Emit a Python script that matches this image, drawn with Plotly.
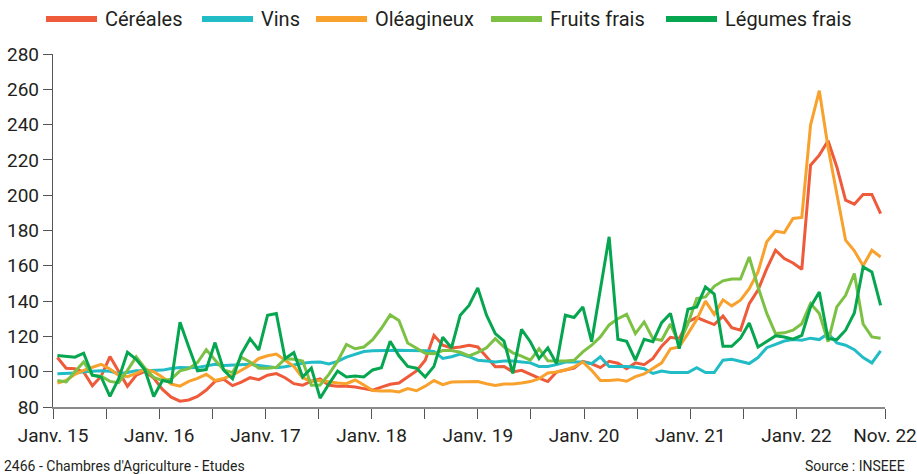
import plotly.graph_objects as go
import pandas as pd

# ---------------- Data (monthly index, Jan 2015 = base) ----------------
mois = pd.date_range("2015-01-01", "2022-11-01", freq="MS")

cereales = [108, 102, 101.7, 99.8, 92, 97.4, 108.6, 99.8, 91.7, 98, 100.2, 96.4,
            90, 85.6, 83.3, 84, 86, 89.6, 94.5, 95.7, 92.1, 94.1, 96.6, 95.5,
            98, 98.9, 96.6, 93.2, 92.3, 94.7, 96, 92.3, 91.7, 91.7, 91.3, 90.4,
            89.5, 91.3, 92.9, 93.6, 97, 100.4, 106.5, 120.6, 115, 113.5, 114, 115,
            114, 108.3, 102.8, 103, 99.9, 100.8, 98.5, 96.3, 94.4, 99.8, 101, 102,
            105.9, 104.5, 102.3, 105.9, 104.8, 101.7, 105, 104, 107.5, 114.5, 119.5, 118.7,
            128.2, 130.7, 128.6, 126.7, 131.5, 125, 123.5, 138.6, 146.2, 158.4, 168.8, 164.1,
            161.6, 158, 217, 222.7, 230.8, 216, 197.2, 194.9, 200.4, 200.4, 189.6]

vins = [98.8, 98.8, 99.2, 100, 100.3, 100.5, 100.2, 98.9, 99.6, 100.6, 100.6, 100.7,
        100.9, 101.8, 102.4, 102.3, 102.4, 103.3, 104.2, 103.5, 103.6, 104, 104.2, 103.5,
        102.8, 102.3, 102.8, 104, 104.8, 105.3, 105.5, 104.4, 105.8, 108.3, 110, 111.4,
        111.8, 112, 112.1, 112.1, 112, 112, 111.8, 111.5, 107.5, 108.5, 110, 108.5,
        106.5, 106, 105.5, 106, 106, 105.5, 105, 103, 103, 104, 105.5, 105.5,
        105.5, 104.5, 108.4, 103, 103, 103, 102.5, 101.7, 99, 100.4, 99.5, 99.5,
        99.5, 102.3, 99.5, 99.5, 106.5, 107, 106, 104.6, 108, 113.6, 115.5, 117.4,
        118.2, 117.8, 119, 118.2, 121.6, 116.3, 115, 112.5, 108, 105, 111.8]

oleagineux = [93.6, 95, 98.5, 100.8, 102.5, 104.2, 101.5, 98, 97.2, 99, 101.3, 100,
              96.8, 93, 91.8, 94.5, 96.2, 98.5, 95, 96.2, 98, 101, 103.6, 107.5,
              109, 110, 106.5, 103, 96.6, 94.5, 95, 94.2, 93.6, 93.2, 95.3, 92.5,
              89.4, 89, 89.2, 88.5, 90.4, 89.2, 91.8, 95, 92.7, 94.2, 94.4, 94.4,
              94.4, 93.2, 92.2, 93, 93, 93.6, 94.4, 96, 99.3, 99.8, 101, 102.7,
              105.5, 100.8, 95, 95, 95.5, 94.6, 97.2, 98.7, 102, 105, 113, 114,
              121.6, 129.5, 140, 132.5, 140.7, 137.3, 140.5, 147, 156.5, 173.6, 179.6, 178.8,
              186.8, 187.4, 239.7, 259.2, 227, 200, 174.5, 168.5, 160, 168.8, 165]

fruits_frais = [95, 94.2, 100, 105.5, 98, 97.4, 94.5, 93.8, 100.8, 108.4, 102, 96.8,
                95, 95.8, 100.5, 101.7, 105.2, 112.5, 106.6, 101, 99.5, 108.2, 105.5, 102,
                102, 102.5, 107.3, 107, 106, 92.3, 92.5, 98.5, 106, 115.4, 113, 114,
                118.1, 124.6, 132.2, 129, 116.3, 113.2, 110.5, 110.2, 112, 112, 111, 109,
                111, 113.5, 118.7, 114, 110.7, 108.8, 106.5, 113, 106.2, 106, 106, 106.5,
                111.2, 115, 119.7, 126.5, 130, 132.5, 121.6, 128.2, 118.7, 117.8, 127, 115.9,
                127.2, 141.4, 142.4, 148.4, 151.5, 152.5, 152.5, 165, 148, 133, 121.6, 122,
                123.5, 127.2, 138.6, 133, 117, 136.7, 143.3, 155.6, 127, 119.7, 119]

legumes_frais = [109.2, 108.6, 108.2, 110.5, 98, 97, 86, 96, 111, 107, 101, 86,
                 95, 94, 128, 114, 100.5, 101.2, 116.5, 100.8, 96, 110, 118.7, 112.3,
                 132, 133, 107.5, 110.8, 97, 102, 85, 93, 100.4, 97, 97.5, 97,
                 101, 102.3, 117.2, 109, 103, 102, 97, 103, 119.5, 113.5, 132, 137.5,
                 147.5, 132, 121.6, 117.4, 99, 124, 117, 107.4, 113.5, 104.5, 132, 130.7,
                 136.7, 117, 148, 176.4, 118.4, 117.2, 106.5, 118.4, 117, 127.8, 133, 113,
                 135.4, 136.7, 148, 144, 114.4, 114.4, 119, 127.6, 114, 117, 120.3, 119.7,
                 118.4, 120.6, 136.7, 145.2, 118.7, 118.2, 123.5, 133.3, 159.4, 156.5, 137.6]

noms = ["Céréales", "Vins", "Oléagineux", "Fruits frais", "Légumes frais"]
valeurs = [cereales, vins, oleagineux, fruits_frais, legumes_frais]
couleurs = ["#EE5A3A", "#22BCC6", "#F8A12C", "#7CC143", "#06A651"]

y_ticks = [80, 100, 120, 140, 160, 180, 200, 220, 240, 260, 280]

mois_fr = {1: "Janv.", 11: "Nov."}

# ---------------- Figure ----------------
FONT = "Roboto, 'DejaVu Sans Condensed', sans-serif"
TXT = "#231F20"

x = list(range(len(mois)))
fig = go.Figure()
for nom, vals, col in zip(noms, valeurs, couleurs):
    fig.add_trace(go.Scatter(x=x, y=vals, mode="lines", name=nom,
                             line=dict(color=col, width=3), showlegend=False))

# x ticks: every 6 months on a Jan-15..Nov-22 scale, labels on January + last month
n = len(mois)
scale = n / (n - 1)
tickvals, ticktext = [], []
for m in list(range(0, 85, 6)) + [n - 1]:
    tickvals.append(-0.5 + m * scale)
    d = mois[m]
    if d.month == 1 or m == n - 1:
        ticktext.append(f"{mois_fr[d.month]} {d.year % 100:02d}")
    else:
        ticktext.append("")

W, H = 917, 474
L, R, T, B = 53, 32, 54, 67
pw, ph = W - L - R, H - T - B

def px_to_paper_x(px):
    return (px - L) / pw

def px_to_paper_y(py):
    return (H - B - py) / ph

fig.update_layout(
    width=W, height=H,
    margin=dict(l=L, r=R, t=T, b=B),
    paper_bgcolor="white", plot_bgcolor="white",
    font=dict(family=FONT, color=TXT, size=19),
    hovermode=False,
    xaxis=dict(range=[-0.5, n - 0.5], tickmode="array", tickvals=tickvals,
               ticktext=ticktext, showgrid=False, zeroline=False, automargin=False,
               showline=True, linecolor="#8a8a8a", linewidth=2,
               ticks="outside", ticklen=10, tickwidth=1.3, tickcolor="#555",
               tickfont=dict(size=19, family=FONT, color=TXT)),
    yaxis=dict(range=[80, 280], tickmode="array", tickvals=y_ticks,
               showgrid=False, zeroline=False, automargin=False,
               showline=True, linecolor="#555", linewidth=1.3,
               ticks="outside", ticklen=9, tickwidth=1.3, tickcolor="#555",
               tickfont=dict(size=19, family=FONT, color=TXT)),
)

# manual legend (long line symbols)
leg_line_x = [46, 202, 316, 491, 666]
leg_y = 19
shapes, annots = [], []
for nom, col, lx in zip(noms, couleurs, leg_line_x):
    shapes.append(dict(type="line", xref="paper", yref="paper",
                       x0=px_to_paper_x(lx), x1=px_to_paper_x(lx + 51),
                       y0=px_to_paper_y(leg_y), y1=px_to_paper_y(leg_y),
                       line=dict(color=col, width=6)))
    annots.append(dict(text=nom, xref="paper", yref="paper",
                       x=px_to_paper_x(lx + 57), y=px_to_paper_y(leg_y),
                       xanchor="left", yanchor="middle", showarrow=False,
                       font=dict(size=20, family=FONT, color=TXT)))

annots.append(dict(text="2466 - Chambres d'Agriculture - Etudes", xref="paper", yref="paper",
                   x=px_to_paper_x(2), y=px_to_paper_y(466), xanchor="left", yanchor="middle",
                   showarrow=False, font=dict(size=14, family=FONT, color=TXT)))
annots.append(dict(text="Source : INSEEE", xref="paper", yref="paper",
                   x=px_to_paper_x(907), y=px_to_paper_y(466), xanchor="right", yanchor="middle",
                   showarrow=False, font=dict(size=14, family=FONT, color=TXT)))

fig.update_layout(shapes=shapes, annotations=annots)
fig.write_html("out.html",
               config={"displayModeBar": False},
               post_script="document.body.style.margin='0px';"
                           "document.documentElement.style.overflow='hidden';")
